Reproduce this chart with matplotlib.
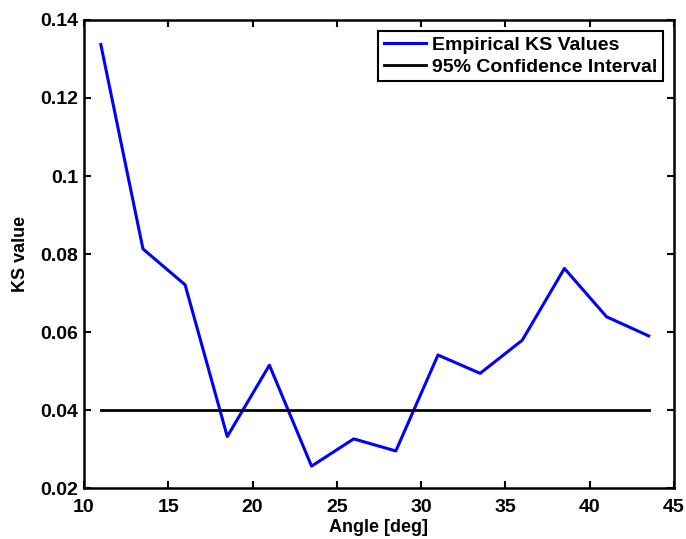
import matplotlib
matplotlib.use("Agg")
import matplotlib.pyplot as plt

# angles and KS values
angles = [11, 13.5, 16, 18.5, 21, 23.5, 26, 28.5, 31, 33.5, 36, 38.5, 41, 43.5]
ks_values = [0.1337, 0.0813, 0.0721, 0.0332, 0.0515, 0.0256, 0.0326, 0.0295,
             0.0541, 0.0494, 0.0579, 0.0763, 0.0639, 0.0590]
conf_level = 0.04

plt.rcParams['font.family'] = ['Liberation Sans', 'DejaVu Sans']
plt.rcParams['font.weight'] = 'bold'

fig = plt.figure(figsize=(6.86, 5.39), dpi=100)
ax = fig.add_axes([0.1224, 0.0946, 0.8601, 0.8683])

ax.plot(angles, ks_values, color='#0000ff', lw=2.2, label='Empirical KS Values')
ax.plot([angles[0], angles[-1]], [conf_level, conf_level], color='black', lw=2,
        label='95% Confidence Interval')

ax.set_xlim(10, 45)
ax.set_ylim(0.02, 0.14)
ax.set_xticks(range(10, 50, 5))
ax.set_yticks([0.02, 0.04, 0.06, 0.08, 0.1, 0.12, 0.14])
ax.set_yticklabels(['0.02', '0.04', '0.06', '0.08', '0.1', '0.12', '0.14'])
ax.tick_params(direction='in', top=True, right=True, length=5, width=1.5,
               labelsize=14)
ax.tick_params(axis='x', pad=8)
ax.tick_params(axis='y', pad=4)
for s in ax.spines.values():
    s.set_linewidth(1.8)

ax.set_xlabel('Angle [deg]', fontsize=13, fontweight='bold', labelpad=2)
ax.set_ylabel('KS value', fontsize=13, fontweight='bold', labelpad=8)

leg = ax.legend(loc='upper right', fontsize=14, fancybox=False, framealpha=1,
                edgecolor='black', handlelength=2.2, handletextpad=0.3,
                borderaxespad=0.55, labelspacing=0.2, borderpad=0.3)
leg.get_frame().set_linewidth(1.5)

fig.savefig('out.png', dpi=100)
